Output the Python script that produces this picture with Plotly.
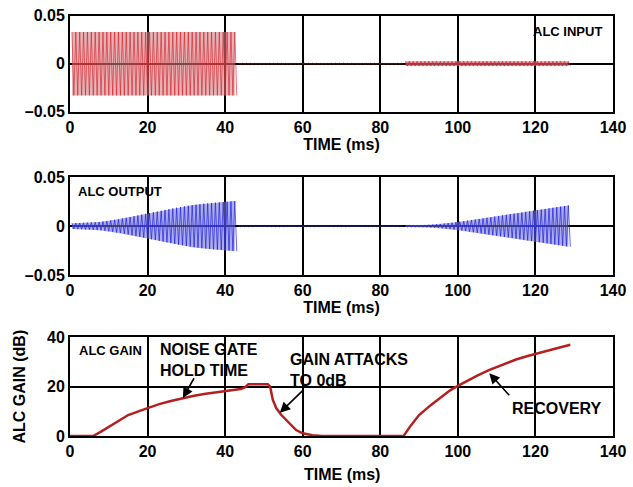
import plotly.graph_objects as go
from plotly.subplots import make_subplots

# ---- data (amplitude envelopes, one value per ms) ----
IN_BURST1_START = 0.5
IN_BURST1_AMP = [0.033] * 43
IN_QUIET_START = 43.5
IN_QUIET_AMP = [0.0005] * 43
IN_BURST2_START = 86.5
IN_BURST2_AMP = [0.0025] * 43

OUT_BURST1_START = 0.5
OUT_BURST1_AMP = [
    0.0030, 0.0031, 0.0032, 0.0034, 0.0036, 0.0038, 0.0040, 0.0043, 0.0047, 0.0052,
    0.0058, 0.0064, 0.0070, 0.0078, 0.0086, 0.0094, 0.0102, 0.0110, 0.0118, 0.0126,
    0.0134, 0.0142, 0.0150, 0.0158, 0.0166, 0.0174, 0.0182, 0.0189, 0.0196, 0.0203,
    0.0209, 0.0215, 0.0220, 0.0225, 0.0229, 0.0233, 0.0237, 0.0240, 0.0243, 0.0246,
    0.0249, 0.0253, 0.0257,
]
OUT_QUIET_START = 43.5
OUT_QUIET_AMP = [0.0006] * 43
OUT_BURST2_START = 86.5
OUT_BURST2_AMP = [
    0.0008, 0.0008, 0.0009, 0.0010, 0.0011, 0.0012, 0.0014, 0.0016, 0.0019, 0.0022,
    0.0026, 0.0030, 0.0035, 0.0040, 0.0045, 0.0050, 0.0056, 0.0062, 0.0068, 0.0074,
    0.0080, 0.0086, 0.0092, 0.0098, 0.0104, 0.0110, 0.0116, 0.0122, 0.0128, 0.0134,
    0.0140, 0.0146, 0.0152, 0.0158, 0.0164, 0.0170, 0.0176, 0.0182, 0.0188, 0.0194,
    0.0200, 0.0206, 0.0212,
]

GAIN_T = [0, 6, 8, 10, 12, 15, 18, 20, 23, 26, 29, 32, 35, 38, 40, 42, 44, 45, 46, 51,
          51.6, 52.3, 53.2, 54.5, 56.6, 58.3, 60, 62.5, 65, 86, 88, 90, 93, 95, 98, 100,
          103, 105, 108, 110, 113, 115, 118, 120, 123, 125, 127, 129]
GAIN_DB = [0, 0, 1.8, 3.7, 5.6, 8.5, 10.2, 11.4, 12.9, 14.2, 15.3, 16.3, 17.1, 17.8, 18.2,
           18.6, 19.0, 19.6, 21, 21, 20, 14.6, 11.2, 8.5, 5.1, 2.4, 1.1, 0.3, 0, 0, 4.5,
           8.5, 12.5, 14.8, 18.5, 20.3, 22.9, 24.5, 26.7, 28, 29.9, 31, 32.4, 33.3, 34.5,
           35.3, 36.2, 37]

TIME_TICKS = [0, 20, 40, 60, 80, 100, 120, 140]
SIG_TICKS = [-0.05, 0, 0.05]
SIG_TICK_TEXT = ["\u20130.05", "0", "0.05"]
GAIN_TICKS = [0, 20, 40]

FONT = "Liberation Sans, Arial, sans-serif"


def zigzag(start, amps):
    """One cycle per ms: positive peak then negative peak."""
    xs, ys = [], []
    for i, a in enumerate(amps):
        xs += [start + i, start + i + 0.5]
        ys += [a, -a]
    return xs, ys


def add_burst(fig, row, start, amps, fill, line, width=0.8):
    t = [start + i for i in range(len(amps))]
    fig.add_trace(go.Scatter(x=t, y=amps, mode="lines", line=dict(width=0),
                             hoverinfo="skip"), row=row, col=1)
    fig.add_trace(go.Scatter(x=t, y=[-a for a in amps], mode="lines", line=dict(width=0),
                             fill="tonexty", fillcolor=fill, hoverinfo="skip"), row=row, col=1)
    xs, ys = zigzag(start, amps)
    fig.add_trace(go.Scatter(x=xs, y=ys, mode="lines", line=dict(color=line, width=width)),
                  row=row, col=1)


fig = make_subplots(rows=3, cols=1)

add_burst(fig, 1, IN_BURST1_START, IN_BURST1_AMP, "rgba(205,130,135,0.6)", "rgba(220,20,30,0.75)")
add_burst(fig, 1, IN_QUIET_START, IN_QUIET_AMP, "rgba(90,20,20,0.8)", "#5a1414")
add_burst(fig, 1, IN_BURST2_START, IN_BURST2_AMP, "rgba(205,110,120,0.7)", "rgba(220,20,30,0.8)")

add_burst(fig, 2, OUT_BURST1_START, OUT_BURST1_AMP, "rgba(120,120,215,0.6)", "rgba(28,28,225,0.85)")
add_burst(fig, 2, OUT_QUIET_START, OUT_QUIET_AMP, "rgba(30,30,90,0.8)", "#23236a")
add_burst(fig, 2, OUT_BURST2_START, OUT_BURST2_AMP, "rgba(120,120,215,0.6)", "rgba(28,28,225,0.85)")

fig.add_trace(go.Scatter(x=GAIN_T, y=GAIN_DB, mode="lines",
                         line=dict(color="#b3201f", width=2.5)), row=3, col=1)

axis_common = dict(showline=True, mirror=True, linecolor="black", linewidth=2,
                   showgrid=True, gridcolor="black", gridwidth=2, zeroline=False,
                   automargin=False, ticks="",
                   tickfont=dict(size=16, family=FONT, weight="bold", color="black"))
title_font = dict(size=16, family=FONT, weight="bold", color="black")

domains = [(0.769, 0.996), (0.383, 0.614), (0.0024, 0.2357)]
standoffs = [2, 1]
for i, (lo, hi) in enumerate(domains, start=1):
    fig.update_xaxes(range=[0, 140], tickvals=TIME_TICKS, domain=[0, 1],
                     **axis_common, row=i, col=1)
    fig.update_yaxes(domain=[lo, hi], **axis_common, row=i, col=1)
for i in (1, 2):
    fig.update_xaxes(title=dict(text="TIME (ms)", standoff=standoffs[i - 1], font=title_font),
                     row=i, col=1)
    fig.update_yaxes(range=[-0.05, 0.05], tickvals=SIG_TICKS, ticktext=SIG_TICK_TEXT,
                     row=i, col=1)
fig.update_yaxes(range=[0, 40], tickvals=GAIN_TICKS,
                 title=dict(text="ALC GAIN (dB)", standoff=17, font=title_font),
                 row=3, col=1)
# bottom axis title sits lower than the margin allows for a real title
fig.add_annotation(x=0.5, y=-0.0898, xref="paper", yref="paper", text="TIME (ms)",
                   yanchor="middle", showarrow=False, font=title_font)

label_font = dict(size=13, family=FONT, weight="bold", color="black")
big_font = dict(size=16, family=FONT, weight="bold", color="black")
fig.add_annotation(x=137.7, y=0.0336, xref="x", yref="y", text="ALC INPUT",
                   xanchor="right", showarrow=False, font=label_font)
fig.add_annotation(x=1.5, y=0.035, xref="x2", yref="y2", text="ALC OUTPUT",
                   xanchor="left", showarrow=False, font=label_font)
fig.add_annotation(x=1.7, y=34.5, xref="x3", yref="y3", text="ALC GAIN",
                   xanchor="left", showarrow=False, font=label_font)
text_blocks = [
    (23.0, 30.6, "NOISE GATE<br>HOLD TIME"),
    (56.5, 26.9, "GAIN ATTACKS<br>TO 0dB"),
    (113.6, 11.2, "RECOVERY"),
]
for x, y, s in text_blocks:
    fig.add_annotation(x=x, y=y, xref="x3", yref="y3", text=s, xanchor="left",
                       align="left", showarrow=False, borderpad=0, font=big_font)

arrow = dict(xref="x3", yref="y3", axref="x3", ayref="y3", text="", showarrow=True,
             arrowhead=2, arrowsize=1.3, arrowwidth=1.6, arrowcolor="black")
fig.add_annotation(x=29.1, y=15.4, ax=32.2, ay=24.0, **arrow)
fig.add_annotation(x=54.1, y=9.4, ax=60.3, ay=18.9, **arrow)
fig.add_annotation(x=108.1, y=25.4, ax=113.6, ay=15.9, **arrow)

fig.update_layout(
    width=633, height=487,
    margin=dict(l=70, r=20, t=14, b=50),
    paper_bgcolor="white", plot_bgcolor="white",
    showlegend=False,
    font=dict(family=FONT, color="black"),
)

# drop the default page margin so the figure sits at the window's corner
fig.write_html("out.html", config={"displayModeBar": False},
               post_script="document.body.style.margin='0';")
